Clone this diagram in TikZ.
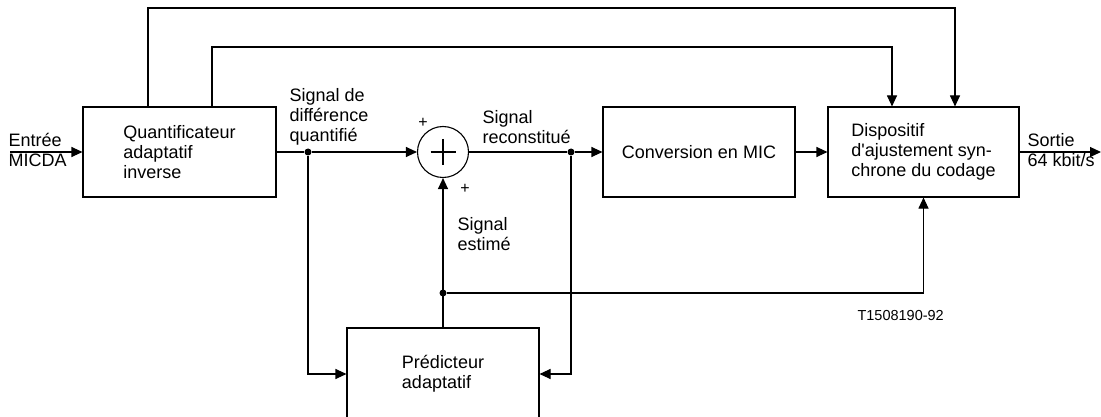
\documentclass[tikz,border=0pt]{standalone}
\usepackage{fontspec}
\setmainfont{Liberation Sans}
\usetikzlibrary{arrows.meta}
\begin{document}
\begin{tikzpicture}[x=1pt,y=-1pt, line width=1.1pt,
  txt/.style={font=\fontsize{18}{20}\selectfont},
  box/.style={draw, rectangle, inner sep=0pt, align=left, txt},
  lbl/.style={inner sep=0pt, anchor=base west, align=left, txt},
  arr/.style={-{Triangle[length=11pt,width=10pt]}},
  dot/.style={circle, fill, inner sep=0pt, minimum size=7pt},
  sign/.style={inner sep=0pt, font=\fontsize{16}{18}\selectfont}]
\useasboundingbox (0,0) rectangle (1101,417);
\clip (0,0) rectangle (1101,417);
\fill[white] (0,0) rectangle (1101,417);

% blocks
\node[box, minimum width=193pt, minimum height=90pt] (quant) at (179.5,152)
  {Quantificateur\\adaptatif\\inverse};
\node[box, minimum width=192pt, minimum height=90pt] (conv) at (699,152)
  {Conversion en MIC};
\node[box, minimum width=191pt, minimum height=90pt] (disp) at (923.5,152)
  {Dispositif\\d\textquotesingle ajustement syn-\\chrone du codage};
\node[box, minimum width=192pt, minimum height=92pt] (pred) at (443,374)
  {Pr\'edicteur\\adaptatif};
\node[draw, circle, minimum size=51pt, inner sep=0pt] (sum) at (443,152) {};
\draw (sum.center) ++(-12.5,0) -- ++(25,0);
\draw (sum.center) ++(0,-13) -- ++(0,26);

% junctions and free ends
\node[dot] (j1) at (308,152) {};
\node[dot] (j2) at (571,152) {};
\node[dot] (j3) at (443,293) {};
\coordinate (in) at (10,152);
\coordinate (out) at (1101,152);
\coordinate (t1a) at (148,8);
\coordinate (t1b) at (955,8);
\coordinate (t2a) at (212,47);
\coordinate (t2b) at (892,47);

% connectors
\draw[arr] (in) -- (quant.west);
\draw (quant.east) -- (j1);
\draw[arr] (j1) -- (sum.west);
\draw (sum.east) -- (j2);
\draw[arr] (j2) -- (conv.west);
\draw[arr] (conv.east) -- (disp.west);
\draw[arr] (disp.east) -- (out);
\draw[arr] (j1) |- (pred.west);
\draw[arr] (j2) |- (pred.east);
\draw[arr] (pred.north) -- (sum.south);
\draw[arr] (j3) -| (disp.south);
\draw[arr] (quant.north -| t1a) -- (t1a) -- (t1b) -- (disp.north -| t1b);
\draw[arr] (quant.north -| t2a) -- (t2a) -- (t2b) -- (disp.north -| t2b);

% labels (base = baseline of last line)
\node[lbl] (lin) at (8,167) {Entr\'ee\\MICDA};
\node[lbl] (ldiff) at (289,142) {Signal de\\diff\'erence\\quantifi\'e};
\node[lbl] (lrec) at (482,144) {Signal\\reconstitu\'e};
\node[lbl] (lest) at (457,250) {Signal\\estim\'e};
\node[lbl] (lout) at (1027,167) {Sortie\\64 kbit/s};
\node[sign] (p1) at (423,123) {+};
\node[sign] (p2) at (465,189) {+};
\node[inner sep=0pt, anchor=base west, font=\fontsize{14.5}{16}\selectfont] (ref) at (857,320) {T1508190-92};
\end{tikzpicture}
\end{document}
